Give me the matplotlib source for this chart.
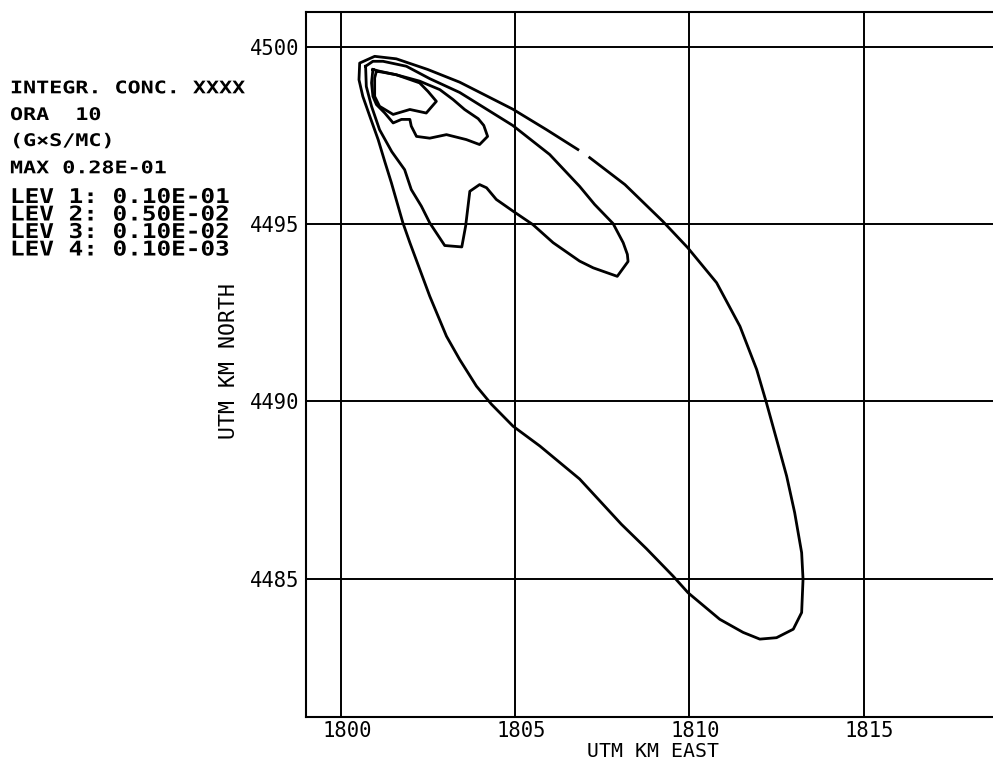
import matplotlib
matplotlib.use("Agg")
import matplotlib.pyplot as plt
from matplotlib.patheffects import AbstractPathEffect
from matplotlib.transforms import Affine2D, ScaledTranslation

x_ticks = [1800, 1805, 1810, 1815]
y_ticks = [4485, 4490, 4495, 4500]

info_lines = ["INTEGR. CONC. XXXX", "ORA  10", "(G×S/MC)", "MAX 0.28E-01"]
lev_lines = ["LEV 1: 0.10E-01", "LEV 2: 0.50E-02", "LEV 3: 0.10E-02", "LEV 4: 0.10E-03"]

# contour lines (UTM km)
# LEV 1 0.10E-01, innermost
lev1_x = [1801.02, 1801.21, 1801.59, 1802.26, 1802.50, 1802.74, 1802.45, 1801.98,
          1801.50, 1801.11, 1800.97, 1800.97, 1801.02]
lev1_y = [4499.32, 4499.29, 4499.22, 4498.99, 4498.75, 4498.47, 4498.14, 4498.24,
          4498.10, 4498.33, 4498.61, 4499.13, 4499.32]

# LEV 2 0.50E-02
lev2_x = [1800.92, 1801.11, 1801.59, 1802.26, 1802.84, 1803.22, 1803.55, 1803.94,
          1804.10, 1804.21, 1803.98, 1803.60, 1803.03, 1802.55, 1802.17, 1802.02,
          1801.98, 1801.74, 1801.50, 1801.26, 1801.02, 1800.92, 1800.88, 1800.92]
lev2_y = [4499.37, 4499.32, 4499.22, 4499.04, 4498.80, 4498.52, 4498.24, 4497.98,
          4497.79, 4497.48, 4497.25, 4497.39, 4497.53, 4497.43, 4497.48, 4497.77,
          4497.96, 4497.96, 4497.86, 4498.14, 4498.38, 4498.61, 4498.99, 4499.37]

# LEV 3 0.10E-02
lev3_x = [1800.71, 1800.92, 1801.21, 1801.88, 1802.55, 1803.41, 1804.93, 1805.99,
          1806.85, 1807.28, 1807.81, 1808.10, 1808.22, 1808.24, 1807.93, 1807.24,
          1806.85, 1806.09, 1805.51, 1804.94, 1804.46, 1804.18, 1803.98, 1803.70,
          1803.58, 1803.47, 1802.98, 1802.55, 1802.31, 1802.02, 1801.83, 1801.46,
          1801.11, 1800.88, 1800.73, 1800.71]
lev3_y = [4499.46, 4499.60, 4499.60, 4499.46, 4499.11, 4498.72, 4497.79, 4496.97,
          4496.07, 4495.56, 4495.02, 4494.48, 4494.15, 4493.95, 4493.53, 4493.77,
          4493.96, 4494.48, 4494.99, 4495.37, 4495.70, 4496.03, 4496.12, 4495.93,
          4494.95, 4494.36, 4494.40, 4495.04, 4495.51, 4495.98, 4496.54, 4497.05,
          4497.67, 4498.33, 4498.89, 4499.46]

# LEV 4 0.10E-03, outermost (has a small break near the top)
lev4_x = [1807.14, 1808.15, 1809.24, 1809.95, 1810.78, 1811.45, 1811.93, 1812.21,
          1812.50, 1812.79, 1813.02, 1813.22, 1813.26, 1813.22, 1812.98, 1812.50,
          1812.02, 1811.54, 1810.87, 1809.96, 1809.53, 1808.77, 1808.05, 1806.85,
          1805.71, 1804.94, 1804.32, 1803.89, 1803.41, 1803.03, 1802.55, 1801.98,
          1801.78, 1801.45, 1801.26, 1801.07, 1800.83, 1800.63, 1800.52, 1800.54,
          1800.97, 1801.59, 1802.49, 1803.41, 1804.93, 1805.90, 1806.80]
lev4_y = [4496.88, 4496.12, 4495.08, 4494.34, 4493.35, 4492.12, 4490.90, 4489.96,
          4488.93, 4487.89, 4486.86, 4485.73, 4484.98, 4484.04, 4483.57, 4483.33,
          4483.29, 4483.48, 4483.85, 4484.60, 4485.07, 4485.84, 4486.53, 4487.81,
          4488.74, 4489.30, 4489.92, 4490.43, 4491.18, 4491.84, 4492.97, 4494.48,
          4495.04, 4496.17, 4496.77, 4497.39, 4498.05, 4498.61, 4499.08, 4499.55,
          4499.74, 4499.67, 4499.37, 4499.01, 4498.25, 4497.67, 4497.11]


class WideText(AbstractPathEffect):
    # plotter lettering is wider than any installed font, stretch the glyphs
    def __init__(self, sx, sy=1.0):
        super().__init__()
        self.sx = sx
        self.sy = sy

    def draw_path(self, renderer, gc, tpath, affine, rgbFace=None):
        renderer.draw_path(gc, tpath, Affine2D().scale(self.sx, self.sy) + affine, rgbFace)


W, H = 993, 762
plt.rcParams["font.family"] = ["DejaVu Sans Mono", "DejaVu Sans"]
fig = plt.figure(figsize=(W / 100, H / 100), dpi=100)
ax = fig.add_axes([306 / W, 1 - 716.7 / H, 1 - 306 / W, (716.7 - 11.7) / H])

for cx, cy in [(lev1_x, lev1_y), (lev2_x, lev2_y), (lev3_x, lev3_y), (lev4_x, lev4_y)]:
    ax.plot(cx, cy, color="black", lw=2.0, solid_joinstyle="round", zorder=3)

ax.set_xlim(1799.0, 1818.71)
ax.set_ylim(4481.1, 4501.0)
ax.set_xticks(x_ticks)
ax.set_yticks(y_ticks)
ax.grid(True, color="black", lw=1.4)
ax.tick_params(length=0, labelsize=14.8, colors="black")
ax.tick_params(axis="y", pad=5)
ax.tick_params(axis="x", pad=3)
for s in ["left", "bottom", "top"]:
    ax.spines[s].set_linewidth(1.5)
ax.spines["right"].set_visible(False)

for lab in ax.get_xticklabels():
    lab.set_transform(lab.get_transform() + ScaledTranslation(6 / 100, 0, fig.dpi_scale_trans))

ax.set_xlabel("UTM KM EAST", fontsize=14.3)
ax.xaxis.set_label_coords(0.505, -0.0365)
ax.set_ylabel("UTM KM NORTH", fontsize=15.5)
ax.yaxis.set_label_coords(-0.098, 0.505)

info_base = [93.3, 120, 146, 173.3]
for txt, yb in zip(info_lines, info_base):
    fig.text(10 / W, 1 - yb / H, txt, fontsize=12.5, fontweight="bold",
             va="baseline", ha="left", path_effects=[WideText(1.25)])

lev_base = [203, 220.5, 238, 255.5]
for txt, yb in zip(lev_lines, lev_base):
    fig.text(10 / W, 1 - yb / H, txt, fontsize=12, fontweight="bold",
             va="baseline", ha="left", path_effects=[WideText(1.46, 1.22)])

fig.savefig("out.png", dpi=100)
